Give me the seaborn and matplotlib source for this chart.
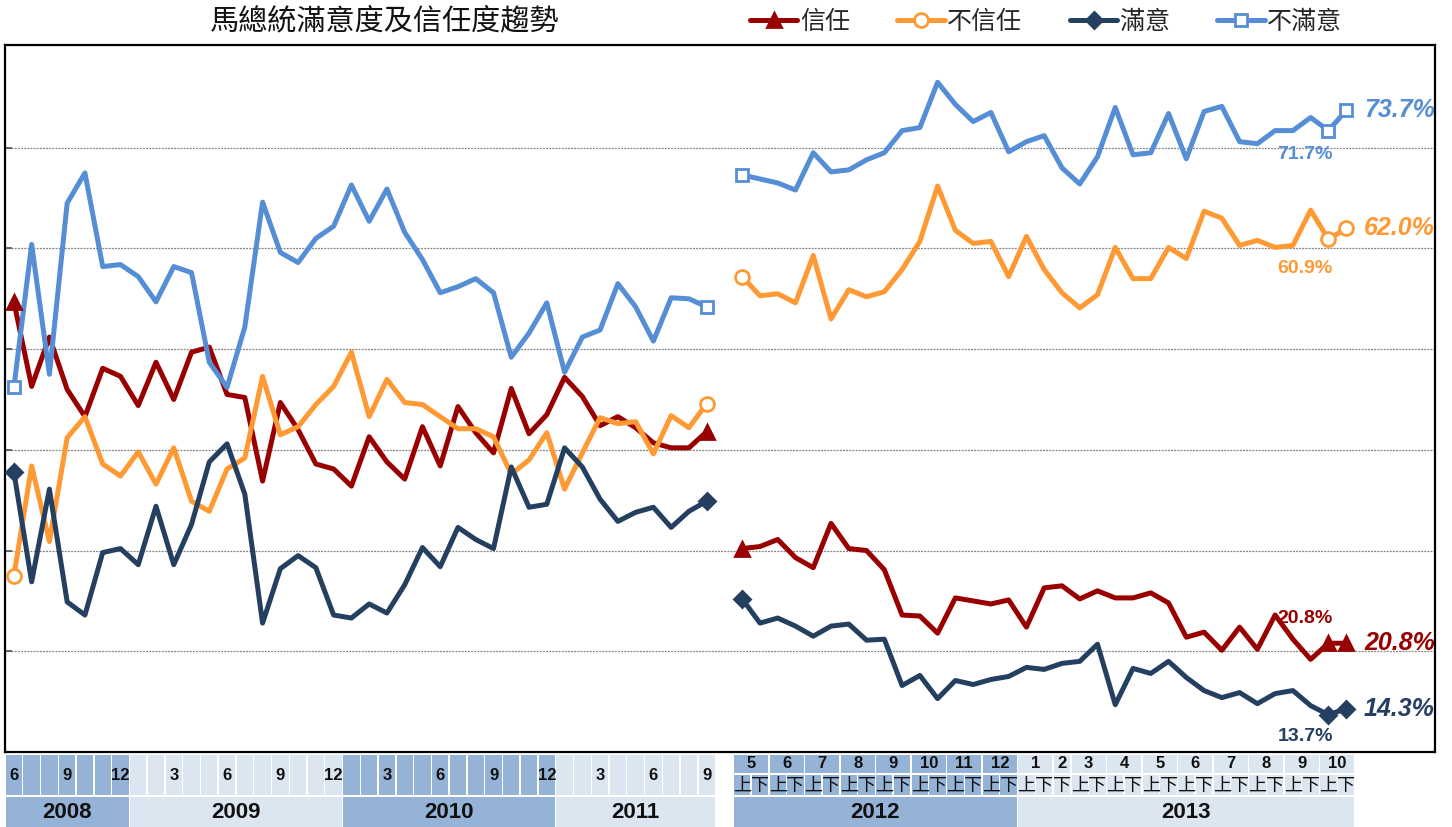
import numpy as np
import pandas as pd
import matplotlib
matplotlib.use("Agg")
import matplotlib.pyplot as plt
from matplotlib.patches import Rectangle
from matplotlib.lines import Line2D
from matplotlib import font_manager
import seaborn as sns

# ---------------- data ----------------
series_names = ["信任", "不信任", "滿意", "不滿意"]

# Monthly period: 2008-06 .. 2011-09
years_left = [2008] * 7 + [2009] * 12 + [2010] * 12 + [2011] * 9
months_left = [6, 7, 8, 9, 10, 11, 12,
               1, 2, 3, 4, 5, 6, 7, 8, 9, 10, 11, 12,
               1, 2, 3, 4, 5, 6, 7, 8, 9, 10, 11, 12,
               1, 2, 3, 4, 5, 6, 7, 8, 9]
month_labels_shown = [3, 6, 9, 12]

# Half-month period: 2012-05上 .. 2013-10下
years_right = [2012] * 16 + [2013] * 19
months_right = [5, 5, 6, 6, 7, 7, 8, 8, 9, 9, 10, 10, 11, 11, 12, 12,
                1, 1, 2, 3, 3, 4, 4, 5, 5, 6, 6, 7, 7, 8, 8, 9, 9, 10, 10]
halves_right = ["上", "下"] * 8 + ["上", "下", "下"] + ["上", "下"] * 8

trust_left = [54.7, 46.3, 51.2, 46.0, 43.3, 48.1, 47.3, 44.4, 48.7, 45.0,
              49.7, 50.2, 45.5, 45.2, 36.9, 44.7, 42.0, 38.6, 38.1, 36.4,
              41.3, 38.8, 37.1, 42.3, 38.4, 44.3, 41.7, 39.7, 46.1, 41.6,
              43.5, 47.2, 45.3, 42.4, 43.3, 42.2, 40.7, 40.2, 40.2, 41.8]
distrust_left = [27.5, 38.4, 30.9, 41.2, 43.3, 38.6, 37.4, 39.8, 36.6, 40.2,
                 34.9, 33.9, 38.1, 39.2, 47.3, 41.5, 42.3, 44.5, 46.3, 49.7,
                 43.3, 47.0, 44.7, 44.5, 43.3, 42.1, 42.1, 41.3, 37.6, 39.0,
                 41.7, 36.1, 39.7, 43.2, 42.6, 42.8, 39.6, 43.4, 42.2, 44.6]
satisfied_left = [37.8, 26.9, 36.1, 24.9, 23.6, 29.8, 30.2, 28.6, 34.4, 28.6,
                  32.6, 38.8, 40.6, 35.6, 22.8, 28.2, 29.5, 28.3, 23.6, 23.3,
                  24.7, 23.8, 26.6, 30.3, 28.4, 32.3, 31.1, 30.2, 38.3, 34.3,
                  34.6, 40.2, 38.3, 35.1, 32.9, 33.8, 34.3, 32.3, 33.9, 34.9]
dissatisfied_left = [46.2, 60.4, 47.5, 64.5, 67.5, 58.2, 58.4, 57.2, 54.7, 58.2,
                     57.6, 48.7, 46.2, 52.2, 64.6, 59.6, 58.6, 61.0, 62.2, 66.3,
                     62.7, 65.9, 61.6, 58.9, 55.6, 56.2, 57.0, 55.6, 49.2, 51.6,
                     54.6, 47.7, 51.2, 51.9, 56.5, 54.2, 50.8, 55.1, 55.0, 54.2]

trust_right = [30.2, 30.4, 31.1, 29.3, 28.3, 32.7, 30.2, 30.0, 28.1, 23.6,
               23.5, 21.8, 25.3, 25.0, 24.7, 25.1, 22.4, 26.3, 26.5, 25.2,
               26.0, 25.3, 25.3, 25.8, 24.8, 21.4, 21.9, 20.1, 22.4, 20.2,
               23.6, 21.2, 19.2, 20.8, 20.8]
distrust_right = [57.2, 55.3, 55.5, 54.6, 59.3, 53.0, 55.9, 55.2, 55.7, 57.9,
                  60.7, 66.2, 61.8, 60.5, 60.7, 57.2, 61.2, 57.9, 55.6, 54.1,
                  55.4, 60.1, 57.0, 57.0, 60.1, 59.0, 63.7, 63.0, 60.3, 60.8,
                  60.1, 60.3, 63.8, 60.9, 62.0]
satisfied_right = [25.2, 22.8, 23.3, 22.5, 21.5, 22.5, 22.7, 21.1, 21.2, 16.6,
                   17.6, 15.3, 17.1, 16.7, 17.2, 17.5, 18.4, 18.2, 18.8, 19.0,
                   20.7, 14.7, 18.3, 17.8, 19.0, 17.4, 16.1, 15.4, 15.9, 14.8,
                   15.8, 16.1, 14.6, 13.7, 14.3]
dissatisfied_right = [67.3, 66.9, 66.5, 65.8, 69.5, 67.6, 67.8, 68.8, 69.5, 71.7,
                      72.0, 76.5, 74.3, 72.6, 73.5, 69.6, 70.6, 71.2, 68.0, 66.4,
                      69.1, 74.0, 69.3, 69.5, 73.4, 68.9, 73.6, 74.1, 70.6, 70.4,
                      71.7, 71.7, 73.0, 71.7, 73.7]

# ---------------- styles ----------------
colors = {"信任": "#990000", "不信任": "#FF9933", "滿意": "#243F60", "不滿意": "#558ED5"}
markers = {"信任": "^", "不信任": "o", "滿意": "D", "不滿意": "s"}
mfaces = {"信任": "#990000", "不信任": "white", "滿意": "#243F60", "不滿意": "white"}
msizes = {"信任": 10, "不信任": 10, "滿意": 8, "不滿意": 9}
DARK, LIGHT = "#95B3D7", "#DCE6F1"
year_colors = {2008: DARK, 2009: LIGHT, 2010: DARK, 2011: LIGHT, 2012: DARK, 2013: LIGHT}

sns.set_theme(style="white")
avail = {f.name for f in font_manager.fontManager.ttflist}
CJK = "Noto Sans CJK TC"
NUM = "Liberation Sans Narrow" if "Liberation Sans Narrow" in avail else "Liberation Sans"
plt.rcParams["font.family"] = [CJK, "DejaVu Sans"]

n_left = len(months_left)
gap = 1
x_left = list(range(n_left))
x_right = list(range(n_left + gap, n_left + gap + len(months_right)))

left_vals = {"信任": trust_left, "不信任": distrust_left, "滿意": satisfied_left, "不滿意": dissatisfied_left}
right_vals = {"信任": trust_right, "不信任": distrust_right, "滿意": satisfied_right, "不滿意": dissatisfied_right}

rows = []
for s in series_names:
    for x, v in zip(x_left, left_vals[s]):
        rows.append({"x": x, "value": v, "series": s, "segment": "L"})
    for x, v in zip(x_right, right_vals[s]):
        rows.append({"x": x, "value": v, "series": s, "segment": "R"})
df = pd.DataFrame(rows)

W, H = 1452, 827
fig = plt.figure(figsize=(W / 100, H / 100), dpi=100)
ax_l, ax_r, ax_t, ax_b = 5 / W, 1435 / W, 1 - 45 / H, 1 - 752 / H
ax = fig.add_axes([ax_l, ax_b, ax_r - ax_l, ax_t - ax_b])
XLIM = (-0.5, 80.0)

sns.lineplot(data=df, x="x", y="value", hue="series", units="segment", estimator=None,
             hue_order=series_names, palette=colors, linewidth=3.6, legend=False,
             sort=False, ax=ax, solid_joinstyle="round")

# endpoint markers
for s in series_names:
    mx = [x_left[0], x_left[-1], x_right[0], x_right[-2], x_right[-1]]
    my = [left_vals[s][0], left_vals[s][-1], right_vals[s][0], right_vals[s][-2], right_vals[s][-1]]
    ax.plot(mx, my, linestyle="none", marker=markers[s], markersize=msizes[s],
            markerfacecolor=mfaces[s], markeredgecolor=colors[s], markeredgewidth=2, zorder=5)

ax.set_xlim(*XLIM)
ax.set_ylim(10, 80.2)
ax.set_yticks([20, 30, 40, 50, 60, 70])
ax.set_yticklabels([])
ax.set_xticks([])
ax.set_xlabel("")
ax.set_ylabel("")
ax.yaxis.grid(True, linestyle=(0, (1.5, 1)), color="#808080", linewidth=0.9)
ax.tick_params(axis="y", direction="in", length=5, left=True, color="#555555")
for sp in ax.spines.values():
    sp.set_visible(True)
    sp.set_color("black")
    sp.set_linewidth(1.6)

# value labels
lab_x_big = 78.0
lab_x_small = 72.7
for s, off_small in [("不滿意", -17), ("不信任", -21), ("信任", 18), ("滿意", -16)]:
    v_last = right_vals[s][-1]
    v_prev = right_vals[s][-2]
    ax.annotate(f"{v_last:.1f}%", xy=(lab_x_big, v_last), ha="center", va="center",
                fontsize=18, fontweight="bold", fontstyle="italic", color=colors[s],
                family="Liberation Sans")
    ax.annotate(f"{v_prev:.1f}%", xy=(lab_x_small, v_prev), xytext=(0, off_small),
                textcoords="offset points", ha="center", va="center",
                fontsize=14, fontweight="bold", color=colors[s], family="Liberation Sans")

# title & legend
fig.text(385 / W, 1 - 21 / H, "馬總統滿意度及信任度趨勢", ha="center", va="center",
         fontsize=21, family=[CJK, "DejaVu Sans"], color="#111111")
handles = [Line2D([0], [0], color=colors[s], lw=3.6, marker=markers[s], markersize=msizes[s],
                  markerfacecolor=mfaces[s], markeredgecolor=colors[s], markeredgewidth=2)
           for s in series_names]
fig.legend(handles, series_names, loc="center", bbox_to_anchor=(1046 / W, 1 - 22 / H), ncol=4,
           frameon=False, handlelength=1.9, handletextpad=0.1, columnspacing=1.9,
           prop={"family": CJK, "size": 18})

# ---------------- bottom category table ----------------
tab = fig.add_axes([ax_l, 0, ax_r - ax_l, 72 / H])
tab.set_xlim(*XLIM)
tab.set_ylim(0, 72)
tab.axis("off")
g = 0.04

def cell(x0, x1, y0, y1, color):
    tab.add_patch(Rectangle((x0 + g, y0), (x1 - x0) - 2 * g, y1 - y0, facecolor=color,
                            edgecolor="none", antialiased=False))

# left months (tall row)
for x, yr, m in zip(x_left, years_left, months_left):
    cell(x - 0.5, x + 0.5, 32, 72, year_colors[yr])
    if m in month_labels_shown:
        tab.text(x, 52, str(m), ha="center", va="center", fontsize=12, fontweight="bold",
                 family=NUM, color="#111111")

# right halves and months
for x, yr, h in zip(x_right, years_right, halves_right):
    cell(x - 0.5, x + 0.5, 32, 52, year_colors[yr])
    tab.text(x, 41.5, h, ha="center", va="center", fontsize=13, family=CJK, color="#111111")

def groups(keys, xs):
    out = []
    start = 0
    for i in range(1, len(keys) + 1):
        if i == len(keys) or keys[i] != keys[start]:
            out.append((keys[start], xs[start], xs[i - 1]))
            start = i
    return out

for (yr, m), xa, xb in groups(list(zip(years_right, months_right)), x_right):
    cell(xa - 0.5, xb + 0.5, 54, 72, year_colors[yr])
    tab.text((xa + xb) / 2, 63, str(m), ha="center", va="center", fontsize=12,
             fontweight="bold", family=NUM, color="#111111")

for yr, xa, xb in groups(years_left, x_left) + groups(years_right, x_right):
    cell(xa - 0.5, xb + 0.5, 0, 30, year_colors[yr])
    tab.text((xa + xb) / 2, 14, str(yr), ha="center", va="center", fontsize=16,
             fontweight="bold", family=NUM, color="#111111")

fig.savefig("out.png", dpi=100, facecolor="white")
